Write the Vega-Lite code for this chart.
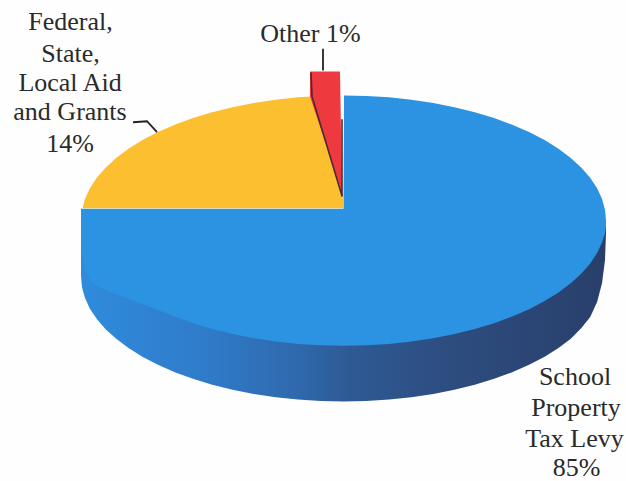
{
  "$schema": "https://vega.github.io/schema/vega-lite/v6.json",
  "width": 626,
  "height": 481,
  "autosize": {"type": "fit", "contains": "padding"},
  "padding": 0,
  "background": "#fefefe",
  "config": {"view": {"stroke": null}},
  "datasets": {
    "wall": [
      {"x":81,"top":222,"bottom":278},{"x":82,"top":222,"bottom":289},{"x":85,"top":222,"bottom":299.9},{"x":89.9,"top":222,"bottom":310.6},{"x":96.8,"top":222,"bottom":321.1},{"x":105.6,"top":222,"bottom":331.2},{"x":116.2,"top":222,"bottom":341},{"x":128.5,"top":222,"bottom":350.3},{"x":142.4,"top":222,"bottom":359},{"x":157.9,"top":222,"bottom":367.1},{"x":174.8,"top":222,"bottom":374.5},{"x":192.9,"top":222,"bottom":381.2},{"x":212.2,"top":222,"bottom":387.1},{"x":232.6,"top":222,"bottom":392.2},{"x":253.7,"top":222,"bottom":396.4},{"x":275.6,"top":222,"bottom":399.7},{"x":297.9,"top":222,"bottom":402.1},{"x":320.6,"top":222,"bottom":403.5},{"x":343.5,"top":222,"bottom":404},{"x":366.4,"top":222,"bottom":403.5},{"x":389.1,"top":222,"bottom":402.1},{"x":411.4,"top":222,"bottom":399.7},{"x":433.3,"top":222,"bottom":396.4},{"x":454.4,"top":222,"bottom":392.2},{"x":474.8,"top":222,"bottom":387.1},{"x":494.1,"top":222,"bottom":381.2},{"x":512.2,"top":222,"bottom":374.5},{"x":529.1,"top":222,"bottom":367.1},{"x":544.6,"top":222,"bottom":359},{"x":558.5,"top":222,"bottom":350.3},{"x":570.8,"top":222,"bottom":341},{"x":581.4,"top":222,"bottom":330},{"x":590.2,"top":222,"bottom":319},{"x":597.1,"top":222,"bottom":304},{"x":602,"top":222,"bottom":285},{"x":605,"top":222,"bottom":262},{"x":606,"top":222,"bottom":234}
    ],
    "levy": [
      {"x":81,"top":210,"bottom":240},{"x":82,"top":210,"bottom":255},{"x":85,"top":210,"bottom":272},{"x":89.9,"top":210,"bottom":282},{"x":96.8,"top":210,"bottom":288},{"x":105.6,"top":210,"bottom":292},{"x":116.2,"top":210,"bottom":296},{"x":128.5,"top":210,"bottom":301},{"x":142.4,"top":210,"bottom":306},{"x":157.9,"top":210,"bottom":312},{"x":174.8,"top":210,"bottom":318.5},{"x":192.9,"top":210,"bottom":325.2},{"x":212.2,"top":210,"bottom":331.1},{"x":232.6,"top":210,"bottom":336.2},{"x":253.7,"top":210,"bottom":340.4},{"x":275.6,"top":210,"bottom":343.7},{"x":297.9,"top":210,"bottom":346.1},{"x":320.6,"top":210,"bottom":347.5},{"x":343.5,"top":210,"bottom":348},{"x":344,"top":96,"bottom":348},{"x":366.4,"top":96.5,"bottom":347.5},{"x":389.1,"top":97.9,"bottom":346.1},{"x":411.4,"top":100.3,"bottom":343.7},{"x":433.3,"top":103.6,"bottom":340.4},{"x":454.4,"top":107.8,"bottom":336.2},{"x":474.8,"top":112.9,"bottom":331.1},{"x":494.1,"top":118.8,"bottom":325.2},{"x":512.2,"top":125.5,"bottom":318.5},{"x":529.1,"top":132.9,"bottom":311.1},{"x":544.6,"top":141,"bottom":303},{"x":558.5,"top":149.7,"bottom":294.3},{"x":570.8,"top":159,"bottom":285},{"x":581.4,"top":168.8,"bottom":275.2},{"x":590.2,"top":178.9,"bottom":265.1},{"x":597.1,"top":189.4,"bottom":254.6},{"x":602,"top":200.1,"bottom":243.9},{"x":605,"top":211,"bottom":235},{"x":606,"top":222,"bottom":228}
    ],
    "aid": [
      {"x":83,"top":208,"bottom":209.5},{"x":85,"top":200.1,"bottom":209.5},{"x":89.9,"top":189.4,"bottom":209.5},{"x":96.8,"top":178.9,"bottom":209.5},{"x":105.6,"top":168.8,"bottom":209.5},{"x":116.2,"top":159,"bottom":209.5},{"x":128.5,"top":149.7,"bottom":209.5},{"x":142.4,"top":141,"bottom":209.5},{"x":157.9,"top":132.9,"bottom":209.5},{"x":174.8,"top":125.5,"bottom":209.5},{"x":192.9,"top":118.8,"bottom":209.5},{"x":212.2,"top":112.9,"bottom":209.5},{"x":232.6,"top":107.8,"bottom":209.5},{"x":253.7,"top":103.6,"bottom":209.5},{"x":275.6,"top":100.3,"bottom":209.5},{"x":297.9,"top":97.9,"bottom":209.5},{"x":311,"top":97,"bottom":209.5},{"x":343,"top":200,"bottom":209.5}
    ],
    "other": [
      {"x":310,"top":72,"bottom":97},{"x":340,"top":72,"bottom":188},{"x":342,"top":192,"bottom":196}
    ],
    "edges": [
      {"edge":"other-left","i":0,"x":311,"y":73},{"edge":"other-left","i":1,"x":312,"y":97},{"edge":"other-left","i":2,"x":342,"y":197},
      {"edge":"other-right","i":0,"x":342,"y":120},{"edge":"other-right","i":1,"x":342,"y":198}
    ],
    "leaders": [
      {"leader":"Other","i":0,"x":323,"y":49},{"leader":"Other","i":1,"x":323,"y":71},
      {"leader":"Aid","i":0,"x":133,"y":123},{"leader":"Aid","i":1,"x":147,"y":122},{"leader":"Aid","i":2,"x":157,"y":133}
    ],
    "labels": [
      {"text":"Federal,","x":70.5,"y":30},
      {"text":"State,","x":70.5,"y":62},
      {"text":"Local Aid","x":70,"y":92},
      {"text":"and Grants","x":70,"y":121},
      {"text":"14%","x":70,"y":153},
      {"text":"Other 1%","x":310.5,"y":42},
      {"text":"School","x":575,"y":387},
      {"text":"Property","x":576,"y":419},
      {"text":"Tax Levy","x":574.5,"y":450},
      {"text":"85%","x":576.5,"y":479}
    ]
  },
  "layer": [
    {
      "data": {"name": "wall"},
      "mark": {
        "type": "area",
        "orient": "vertical",
        "fill": {
          "gradient": "linear", "x1": 0, "x2": 1, "y1": 0, "y2": 0,
          "stops": [
            {"offset": 0, "color": "#2f8bdc"},
            {"offset": 0.23, "color": "#2f7cca"},
            {"offset": 0.42, "color": "#2f68ac"},
            {"offset": 0.51, "color": "#2e5a94"},
            {"offset": 0.7, "color": "#2d4d80"},
            {"offset": 1, "color": "#293f6b"}
          ]
        }
      },
      "encoding": {
        "x": {"field": "x", "type": "quantitative", "axis": null, "scale": {"domain": [0, 626], "nice": false, "zero": false}},
        "y": {"field": "top", "type": "quantitative", "axis": null, "stack": null, "scale": {"domain": [481, 0], "nice": false, "zero": false}},
        "y2": {"field": "bottom"}
      }
    },
    {
      "data": {"name": "levy"},
      "mark": {"type": "area", "orient": "vertical", "fill": "#2b93e2"},
      "encoding": {
        "x": {"field": "x", "type": "quantitative", "axis": null},
        "y": {"field": "top", "type": "quantitative", "axis": null, "stack": null},
        "y2": {"field": "bottom"}
      }
    },
    {
      "data": {"name": "aid"},
      "mark": {"type": "area", "orient": "vertical", "fill": "#fbbf2f"},
      "encoding": {
        "x": {"field": "x", "type": "quantitative", "axis": null},
        "y": {"field": "top", "type": "quantitative", "axis": null, "stack": null},
        "y2": {"field": "bottom"}
      }
    },
    {
      "data": {"name": "other"},
      "mark": {"type": "area", "orient": "vertical", "fill": "#ee3a3e"},
      "encoding": {
        "x": {"field": "x", "type": "quantitative", "axis": null},
        "y": {"field": "top", "type": "quantitative", "axis": null, "stack": null},
        "y2": {"field": "bottom"}
      }
    },
    {
      "data": {"name": "edges"},
      "mark": {"type": "line", "color": "#4a2a30", "strokeWidth": 1.6},
      "encoding": {
        "x": {"field": "x", "type": "quantitative", "axis": null},
        "y": {"field": "y", "type": "quantitative", "axis": null},
        "detail": {"field": "edge"},
        "order": {"field": "i"}
      }
    },
    {
      "data": {"name": "leaders"},
      "mark": {"type": "line", "color": "#222222", "strokeWidth": 1.8},
      "encoding": {
        "x": {"field": "x", "type": "quantitative", "axis": null},
        "y": {"field": "y", "type": "quantitative", "axis": null},
        "detail": {"field": "leader"},
        "order": {"field": "i"}
      }
    },
    {
      "data": {"name": "labels"},
      "mark": {"type": "text", "font": "Liberation Serif", "fontSize": 26, "align": "center", "baseline": "alphabetic", "color": "#2a2a2a"},
      "encoding": {
        "x": {"field": "x", "type": "quantitative", "axis": null},
        "y": {"field": "y", "type": "quantitative", "axis": null},
        "text": {"field": "text"}
      }
    }
  ]
}
